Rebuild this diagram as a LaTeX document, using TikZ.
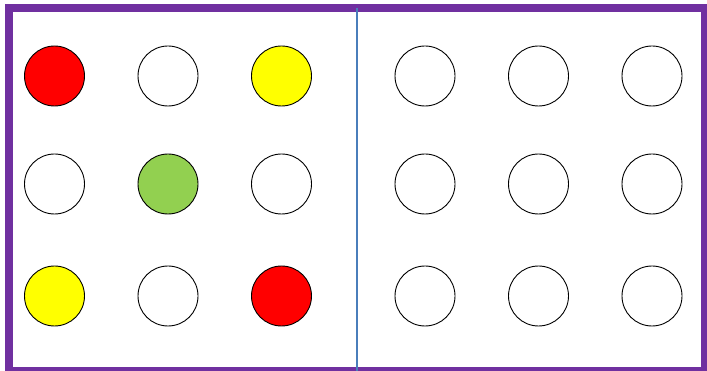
\documentclass[tikz,border=0pt]{standalone}
\usetikzlibrary{positioning}
\definecolor{frame}{HTML}{7030A0}
\definecolor{divider}{HTML}{4A7EBB}
\definecolor{dotgreen}{HTML}{92D050}
\definecolor{dotred}{HTML}{FF0000}
\definecolor{dotyellow}{HTML}{FFFF00}
\begin{document}
\begin{tikzpicture}[x=1pt,y=-1pt,
  dot/.style={circle,draw=black,line width=0.9pt,minimum size=60pt,inner sep=0pt,fill=white}]
\useasboundingbox (0,0) rectangle (707,371);
\clip (0,0) rectangle (707,371);
\fill[white] (0,0) rectangle (707,371);
\draw[frame,line width=8pt] (9,8) rectangle (705,371);
\coordinate (dtop) at (357,8);
\coordinate (dbot) at (357,371);
\draw[divider,line width=2pt] (dtop) -- (dbot);
% left grid
\node[dot,fill=dotred] (a1) at (54.5,76) {};
\node[dot] (a2) at (168,76) {};
\node[dot,fill=dotyellow] (a3) at (281.5,76) {};
\node[dot] (b1) at (54.5,184) {};
\node[dot,fill=dotgreen] (b2) at (168,184) {};
\node[dot] (b3) at (281.5,184) {};
\node[dot,fill=dotyellow] (c1) at (54.5,296) {};
\node[dot] (c2) at (168,296) {};
\node[dot,fill=dotred] (c3) at (281.5,296) {};
% right grid
\node[dot] (d1) at (425,76) {};
\node[dot] (d2) at (538.5,76) {};
\node[dot] (d3) at (652,76) {};
\node[dot] (e1) at (425,184) {};
\node[dot] (e2) at (538.5,184) {};
\node[dot] (e3) at (652,184) {};
\node[dot] (f1) at (425,296) {};
\node[dot] (f2) at (538.5,296) {};
\node[dot] (f3) at (652,296) {};
\end{tikzpicture}
\end{document}
